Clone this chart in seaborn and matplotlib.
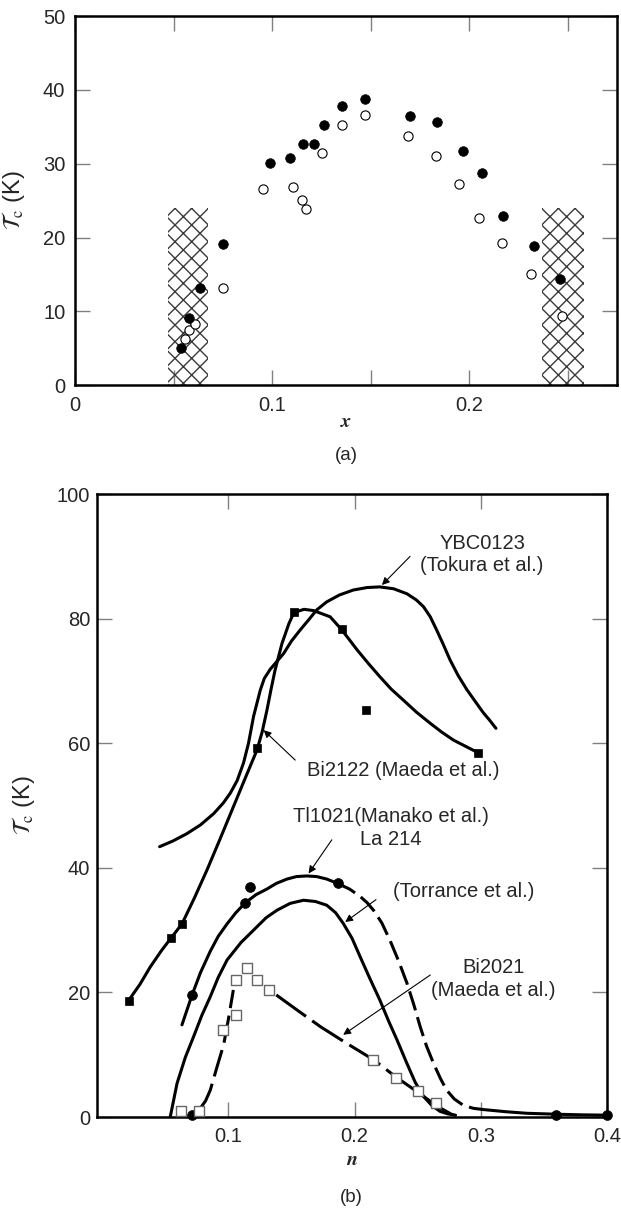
import matplotlib
matplotlib.use("Agg")
import matplotlib.pyplot as plt
import seaborn as sns

# --- DATA: panel (a), Tc vs x ---
a_filled_x = [0.054, 0.058, 0.0635, 0.075, 0.0987, 0.109, 0.1156, 0.121, 0.1264,
              0.1357, 0.1472, 0.170, 0.1836, 0.1966, 0.2064, 0.217, 0.2327, 0.2459]
a_filled_tc = [5.0, 9.1, 13.2, 19.1, 30.1, 30.8, 32.7, 32.7, 35.3,
               37.8, 38.8, 36.4, 35.6, 31.7, 28.7, 22.9, 18.9, 14.4]
a_open_x = [0.056, 0.058, 0.061, 0.075, 0.0956, 0.1105, 0.115, 0.1173, 0.1252,
            0.1357, 0.1472, 0.169, 0.1831, 0.1946, 0.2052, 0.2166, 0.2313, 0.247]
a_open_tc = [6.3, 7.4, 8.3, 13.2, 26.6, 26.9, 25.1, 23.9, 31.5,
             35.3, 36.6, 33.7, 31.0, 27.3, 22.7, 19.3, 15.0, 9.3]
hatch_lo = [0.047, 0.237]
hatch_hi = [0.0675, 0.258]
hatch_top = 24

# --- DATA: panel (b), Tc vs n ---
ybc_n = [0.0456, 0.056, 0.0673, 0.078, 0.0884, 0.096, 0.1016, 0.107, 0.112, 0.116,
         0.120, 0.1253, 0.1285, 0.1333, 0.1438, 0.150, 0.157, 0.164, 0.170, 0.178,
         0.188, 0.199, 0.210, 0.220, 0.231, 0.2415, 0.249, 0.2547, 0.260, 0.265,
         0.270, 0.2756, 0.282, 0.289, 0.296, 0.302, 0.307, 0.312]
ybc_tc = [43.4, 44.3, 45.5, 46.9, 48.7, 50.4, 52.0, 54.0, 56.8, 60.0,
          64.3, 68.5, 70.4, 71.9, 74.4, 76.4, 78.2, 79.9, 81.4, 82.7,
          83.8, 84.6, 85.0, 85.1, 84.8, 84.0, 83.0, 81.9, 80.3, 78.2,
          76.0, 73.4, 70.9, 68.6, 66.6, 64.9, 63.7, 62.4]

bi2122_n = [0.021, 0.030, 0.0382, 0.047, 0.0549, 0.0633, 0.073, 0.083, 0.093, 0.103,
            0.113, 0.1227, 0.1268, 0.1306, 0.134, 0.137, 0.1425, 0.148, 0.152, 0.160,
            0.1675, 0.1807, 0.1895, 0.196, 0.202, 0.211, 0.220, 0.229, 0.2388, 0.249,
            0.260, 0.269, 0.2784, 0.289, 0.2977]
bi2122_line_tc = [18.7, 21.3, 24.1, 26.7, 28.8, 31.0, 35.1, 39.6, 44.4, 49.3,
                  54.2, 58.9, 61.8, 65.3, 68.8, 71.7, 76.0, 79.2, 81.0, 81.5,
                  81.3, 80.3, 78.3, 76.6, 75.0, 72.8, 70.7, 68.7, 66.9, 65.0,
                  63.2, 61.8, 60.5, 59.4, 58.5]
bi2122_pts_n = [0.021, 0.055, 0.063, 0.123, 0.152, 0.190, 0.209, 0.298]
bi2122_pts_tc = [18.7, 28.8, 31.0, 59.2, 81.0, 78.3, 65.4, 58.5]

tl_solid_n = [0.0633, 0.0713, 0.078, 0.0857, 0.092, 0.099, 0.106, 0.1135, 0.122, 0.1306,
              0.138, 0.1465, 0.154, 0.1623, 0.170, 0.178, 0.1866]
tl_solid_tc = [14.8, 19.6, 23.2, 26.6, 29.0, 31.0, 32.8, 34.4, 35.7, 36.6,
               37.5, 38.2, 38.6, 38.7, 38.6, 38.2, 37.5]
tl_dash_n = [0.1866, 0.196, 0.2045, 0.210, 0.215, 0.2215, 0.228, 0.235, 0.2415, 0.247,
             0.252, 0.257, 0.2626, 0.268, 0.273, 0.279, 0.286, 0.294, 0.302]
tl_dash_tc = [37.5, 36.6, 35.4, 34.4, 33.2, 31.2, 28.4, 25.0, 21.5, 18.0,
              14.5, 11.4, 8.6, 6.2, 4.3, 2.9, 1.9, 1.4, 1.2]
tl_tail_n = [0.302, 0.320, 0.3365, 0.36, 0.38, 0.40]
tl_tail_tc = [1.2, 0.85, 0.6, 0.45, 0.35, 0.3]
circ_n = [0.071, 0.0713, 0.1135, 0.1169, 0.1866, 0.3597, 0.40]
circ_tc = [0.3, 19.6, 34.4, 37.0, 37.5, 0.3, 0.3]

torr_n = [0.054, 0.0594, 0.066, 0.0725, 0.079, 0.0857, 0.092, 0.099, 0.110, 0.120,
          0.130, 0.1386, 0.149, 0.1596, 0.169, 0.178, 0.185, 0.191, 0.198, 0.2045,
          0.212, 0.220, 0.227, 0.2336, 0.2415, 0.248, 0.2547, 0.261, 0.2678, 0.274, 0.28]
torr_tc = [0.0, 5.4, 9.6, 12.9, 16.3, 19.3, 22.4, 25.2, 28.0, 30.0,
           32.0, 33.2, 34.3, 34.8, 34.6, 34.0, 32.8, 31.1, 28.7, 25.7,
           22.3, 18.8, 15.4, 12.4, 8.6, 5.6, 3.3, 1.9, 0.9, 0.5, 0.3]

bi2021_up_n = [0.0778, 0.082, 0.0857, 0.091, 0.0963, 0.100, 0.104]
bi2021_up_tc = [1.4, 2.6, 4.3, 8.0, 11.6, 15.6, 20.4]
bi2021_down_n = [0.138, 0.155, 0.173, 0.194, 0.215, 0.233, 0.250, 0.265, 0.278]
bi2021_down_tc = [19.6, 17.1, 14.5, 11.8, 9.2, 6.4, 4.0, 1.8, 0.3]
sq_open_n = [0.0625, 0.0765, 0.0958, 0.1063, 0.1063, 0.1148, 0.123, 0.132,
             0.215, 0.233, 0.250, 0.2647]
sq_open_tc = [1.0, 1.0, 14.0, 16.4, 22.0, 23.9, 22.0, 20.4, 9.2, 6.2, 4.2, 2.2]

# --- STYLE ---
sns.set_style("white")
plt.rcParams['font.family'] = ['Liberation Sans', 'DejaVu Sans']
plt.rcParams['mathtext.fontset'] = 'stix'
plt.rcParams['hatch.linewidth'] = 1.0
FS = 14.5
YLAB = r'$\mathcal{T}_{\mathrm{c}}$ (K)'

fig = plt.figure(figsize=(6.21, 12.11), dpi=100)
ax_a = fig.add_axes([0.1208, 0.682, 0.8728, 0.3047])
ax_b = fig.add_axes([0.1562, 0.0776, 0.8213, 0.5144])


def frame(ax, pad_x, pad_y):
    for sp in ax.spines.values():
        sp.set_visible(True)
        sp.set_linewidth(1.8)
        sp.set_color('black')
    ax.tick_params(which='both', direction='in', top=True, right=True,
                   bottom=True, left=True, length=11, width=1.0,
                   color='#808080', labelsize=FS)
    ax.tick_params(axis='x', pad=pad_x)
    ax.tick_params(axis='y', pad=pad_y)
    ax.grid(False)


# ---------------- (a) ----------------
for lo, hi in zip(hatch_lo, hatch_hi):
    ax_a.fill_between([lo, hi], 0, hatch_top, facecolor='none', edgecolor='#3a3a3a',
                      hatch='xx', linewidth=0, zorder=1)

sns.scatterplot(x=a_open_x, y=a_open_tc, ax=ax_a, marker='o', s=44,
                facecolor='white', edgecolor='black', linewidth=0.8, zorder=3)
sns.scatterplot(x=a_filled_x, y=a_filled_tc, ax=ax_a, marker='o', s=48,
                color='black', edgecolor='black', linewidth=0.5, zorder=4)

ax_a.set_xlim(0, 0.275)
ax_a.set_ylim(0, 50)
ax_a.set_xticks([0, 0.1, 0.2])
ax_a.set_xticklabels(['0', '0.1', '0.2'])
ax_a.set_xticks([0.05, 0.15, 0.25], minor=True)
ax_a.set_yticks([0, 10, 20, 30, 40, 50])
frame(ax_a, 8, 7)
ax_a.set_ylabel(YLAB, fontsize=17)
ax_a.yaxis.set_label_coords(-0.088, 0.5)
ax_a.set_xlabel('x', family='STIXGeneral', style='italic', weight='bold', fontsize=FS)
ax_a.xaxis.set_label_coords(0.5, -0.1)
ax_a.xaxis.label.set_va('center')
fig.text(0.558, 1 - 455 / 1211, '(a)', ha='center', va='center', fontsize=FS - 1)

# ---------------- (b) ----------------
LW = 2.2
sns.lineplot(x=ybc_n, y=ybc_tc, ax=ax_b, color='black', lw=LW, sort=False, estimator=None)
sns.lineplot(x=bi2122_n, y=bi2122_line_tc, ax=ax_b, color='black', lw=LW, sort=False, estimator=None)
sns.lineplot(x=tl_solid_n, y=tl_solid_tc, ax=ax_b, color='black', lw=LW, sort=False, estimator=None)
sns.lineplot(x=tl_dash_n, y=tl_dash_tc, ax=ax_b, color='black', lw=LW, sort=False,
             estimator=None, linestyle=(0, (6.5, 2.3)))
sns.lineplot(x=tl_tail_n, y=tl_tail_tc, ax=ax_b, color='black', lw=LW, sort=False, estimator=None)
sns.lineplot(x=torr_n, y=torr_tc, ax=ax_b, color='black', lw=LW, sort=False, estimator=None)
sns.lineplot(x=bi2021_up_n, y=bi2021_up_tc, ax=ax_b, color='black', lw=LW, sort=False,
             estimator=None, linestyle=(0, (9, 2.5)))
sns.lineplot(x=bi2021_down_n, y=bi2021_down_tc, ax=ax_b, color='black', lw=LW, sort=False,
             estimator=None, linestyle=(0, (12, 2.5)))

sns.scatterplot(x=bi2122_pts_n, y=bi2122_pts_tc, ax=ax_b, marker='s', s=40,
                color='black', edgecolor='black', linewidth=0.5, zorder=4)
sns.scatterplot(x=circ_n, y=circ_tc, ax=ax_b, marker='o', s=50,
                color='black', edgecolor='black', linewidth=0.5, zorder=4, clip_on=False)
sns.scatterplot(x=sq_open_n, y=sq_open_tc, ax=ax_b, marker='s', s=48,
                facecolor='white', edgecolor='#666666', linewidth=1.0, zorder=4, clip_on=False)

ax_b.set_xlim(-0.004, 0.4)
ax_b.set_ylim(0, 100)
ax_b.set_xticks([0.1, 0.2, 0.3, 0.4])
ax_b.set_xticklabels(['0.1', '0.2', '0.3', '0.4'])
ax_b.set_yticks([0, 20, 40, 60, 80, 100])
frame(ax_b, 7, 5)
ax_b.set_ylabel(YLAB, fontsize=17)
ax_b.yaxis.set_label_coords(-0.117, 0.5)
ax_b.set_xlabel('n', family='STIXGeneral', style='italic', weight='bold', fontsize=FS)
ax_b.xaxis.set_label_coords(0.5, -0.069)
ax_b.xaxis.label.set_va('center')
fig.text(0.566, 1 - 1198 / 1211, '(b)', ha='center', va='center', fontsize=FS - 1)

arrow = dict(arrowstyle='-|>', lw=0.8, color='black', mutation_scale=11,
             shrinkA=0, shrinkB=0)
ax_b.annotate('', xy=(0.2217, 85.4), xytext=(0.244, 90.0), arrowprops=arrow)
ax_b.text(0.301, 90.3, 'YBC0123\n(Tokura et al.)', ha='center', va='center',
          fontsize=FS, linespacing=1.25)
ax_b.annotate('', xy=(0.128, 62.1), xytext=(0.153, 57.3), arrowprops=arrow)
ax_b.text(0.162, 55.7, 'Bi2122 (Maeda et al.)', ha='left', va='center', fontsize=FS)
ax_b.annotate('', xy=(0.1636, 39.1), xytext=(0.182, 44.5), arrowprops=arrow)
ax_b.text(0.229, 46.4, 'Tl1021(Manako et al.)\nLa 214', ha='center', va='center',
          fontsize=FS, linespacing=1.25)
ax_b.annotate('', xy=(0.1926, 31.3), xytext=(0.217, 34.9), arrowprops=arrow)
ax_b.text(0.2863, 36.2, '(Torrance et al.)', ha='center', va='center', fontsize=FS)
ax_b.annotate('', xy=(0.191, 13.2), xytext=(0.260, 22.8), arrowprops=arrow)
ax_b.text(0.31, 22.2, 'Bi2021\n(Maeda et al.)', ha='center', va='center',
          fontsize=FS, linespacing=1.25)

fig.savefig('out.png', dpi=100)
